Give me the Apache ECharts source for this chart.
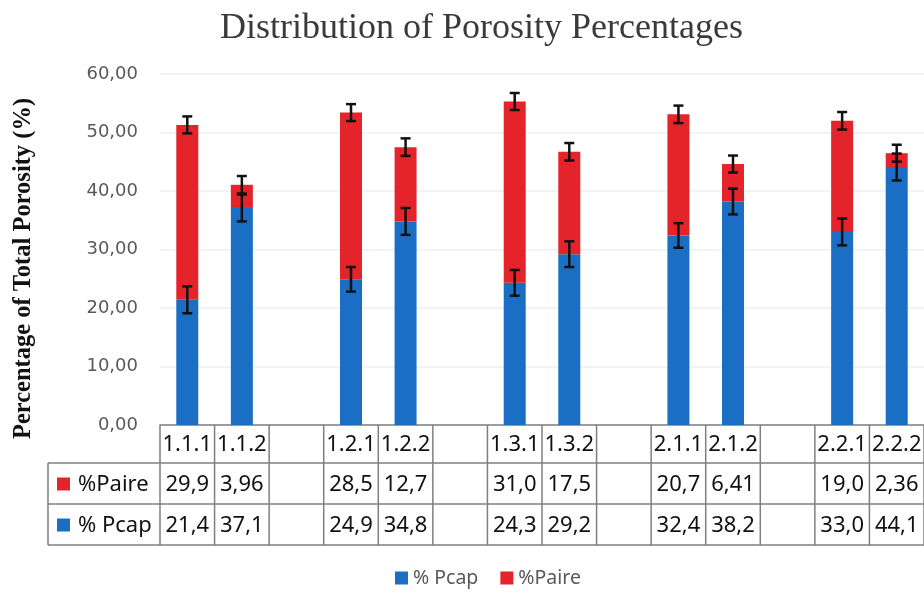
<!DOCTYPE html>
<html><head><meta charset="utf-8">
<script src="https://cdn.jsdelivr.net/npm/echarts@6/dist/echarts.min.js"></script>
<style>html,body{margin:0;padding:0;background:#fff}#c{width:924px;height:595px}</style>
</head><body><div id="c"></div>
<script>
const categories = ['1.1.1','1.1.2','','1.2.1','1.2.2','','1.3.1','1.3.2','','2.1.1','2.1.2','','2.2.1','2.2.2'];
const pcap  = [21.4, 37.1, null, 24.9, 34.8, null, 24.3, 29.2, null, 32.4, 38.2, null, 33.0, 44.1];
const paire = [29.9, 3.96, null, 28.5, 12.7, null, 31.0, 17.5, null, 20.7, 6.41, null, 19.0, 2.36];
const pcapLabels  = ['21,4','37,1','','24,9','34,8','','24,3','29,2','','32,4','38,2','','33,0','44,1'];
const paireLabels = ['29,9','3,96','','28,5','12,7','','31,0','17,5','','20,7','6,41','','19,0','2,36'];
const pcapErr  = [2.3, 2.3, null, 2.1, 2.3, null, 2.2, 2.2, null, 2.1, 2.2, null, 2.3, 2.3];
const totalErr = [1.45, 1.5, null, 1.45, 1.5, null, 1.45, 1.5, null, 1.5, 1.45, null, 1.5, 1.45];
const yTicks = {min: 0, max: 60, interval: 10};

const BLUE = '#1a6fc4', RED = '#e4232b';
const axisKeys = categories.map((c, i) => c || ' '.repeat(i + 1));

const pcapErrData = [], totErrData = [];
categories.forEach((c, i) => {
  if (pcap[i] == null) return;
  const tot = pcap[i] + paire[i];
  pcapErrData.push([i, pcap[i] - pcapErr[i], pcap[i] + pcapErr[i]]);
  totErrData.push([i, tot - totalErr[i], tot + totalErr[i]]);
});

function errRender(params, api) {
  const i = api.value(0);
  const lo = api.coord([i, api.value(1)]);
  const hi = api.coord([i, api.value(2)]);
  const w = 5;
  const st = {stroke: '#111', lineWidth: 2.5};
  return {type: 'group', children: [
    {type: 'line', shape: {x1: lo[0], y1: lo[1], x2: hi[0], y2: hi[1]}, style: st},
    {type: 'line', shape: {x1: lo[0] - w, y1: lo[1], x2: lo[0] + w, y2: lo[1]}, style: st},
    {type: 'line', shape: {x1: hi[0] - w, y1: hi[1], x2: hi[0] + w, y2: hi[1]}, style: st}
  ]};
}

const chart = echarts.init(document.getElementById('c'), null, {renderer: 'canvas'});
const option = {
  animation: false,
  backgroundColor: '#fff',
  title: {
    text: 'Distribution of Porosity Percentages',
    left: 215, top: 6,
    textStyle: {fontFamily: 'Liberation Serif', fontSize: 36, fontWeight: 'normal', color: '#3a3a3a'}
  },
  legend: {
    bottom: 2, left: 390, itemWidth: 13, itemHeight: 13, itemGap: 22,
    icon: 'rect',
    data: ['% Pcap', '%Paire'],
    textStyle: {fontFamily: 'Noto Sans', fontSize: 19.5, color: '#595959'}
  },
  grid: {left: 160, top: 74, width: 766, height: 351},
  xAxis: {
    type: 'category', data: axisKeys,
    axisLine: {show: true, lineStyle: {color: '#7f7f7f', width: 1.5}},
    axisTick: {show: false}, axisLabel: {show: false}
  },
  yAxis: {
    type: 'value', min: yTicks.min, max: yTicks.max, interval: yTicks.interval,
    name: 'Percentage of Total Porosity (%)', nameLocation: 'middle', nameGap: 124,
    nameTextStyle: {fontFamily: 'Liberation Serif', fontWeight: 'bold', fontSize: 24.5, color: '#111',
      padding: [0, 38, 0, 0]},
    axisLine: {show: false}, axisTick: {show: false},
    axisLabel: {margin: 22, fontFamily: 'DejaVu Sans', fontSize: 18, color: '#595959',
      formatter: v => v.toFixed(2).replace('.', ',')},
    splitLine: {show: true, lineStyle: {color: '#eaf1f9', width: 1.5}}
  },
  series: [
    {name: '% Pcap', type: 'bar', stack: 'p', data: pcap, barWidth: 22, itemStyle: {color: BLUE}},
    {name: '%Paire', type: 'bar', stack: 'p', data: paire, barWidth: 22, itemStyle: {color: RED}},
    {type: 'custom', data: pcapErrData, renderItem: errRender, z: 10, encode: {x: 0, y: [1, 2]}},
    {type: 'custom', data: totErrData, renderItem: errRender, z: 10, encode: {x: 0, y: [1, 2]}}
  ]
};
chart.setOption(option);

// Data table under the axis, positioned from the axis scale
(function buildTable() {
  const c0 = chart.convertToPixel({xAxisIndex: 0}, 0);
  const c1 = chart.convertToPixel({xAxisIndex: 0}, 1);
  const band = c1 - c0;
  const y0 = chart.convertToPixel({yAxisIndex: 0}, 0);
  const rowH = [38, 41, 41];
  const rTop = [y0, y0 + rowH[0], y0 + rowH[0] + rowH[1]];
  const rBot = y0 + rowH[0] + rowH[1] + rowH[2];
  const left = c0 - band / 2;
  const right = left + band * categories.length;
  const labelLeft = 48;
  const line = {stroke: '#7f7f7f', lineWidth: 1.5};
  const font = '22px "Noto Sans"';
  const els = [];
  const L = (x1, y1, x2, y2) => els.push({type: 'line', shape: {x1, y1, x2, y2}, style: line, z: 5});
  L(labelLeft, rTop[1], right, rTop[1]);
  L(labelLeft, rTop[2], right, rTop[2]);
  L(labelLeft, rBot, right, rBot);
  L(labelLeft, rTop[1], labelLeft, rBot);
  for (let k = 0; k <= categories.length; k++) {
    const x = left + band * k;
    L(x, y0, x, rBot);
  }
  const rows = [categories, paireLabels, pcapLabels];
  rows.forEach((arr, r) => {
    const yc = rTop[r] + rowH[r] / 2;
    arr.forEach((t, i) => {
      if (!t) return;
      els.push({type: 'text', z: 6, style: {text: t, x: left + band * (i + 0.5), y: yc + 1,
        align: 'center', verticalAlign: 'middle', font: font, fill: '#111'}});
    });
  });
  const rowNames = [null, '%Paire', '% Pcap'];
  const rowColors = [null, RED, BLUE];
  [1, 2].forEach(r => {
    const yc = rTop[r] + rowH[r] / 2;
    els.push({type: 'rect', z: 6, shape: {x: labelLeft + 9, y: yc - 6, width: 13, height: 13}, style: {fill: rowColors[r]}});
    els.push({type: 'text', z: 6, style: {text: rowNames[r], x: labelLeft + 30, y: yc + 1,
      align: 'left', verticalAlign: 'middle', font: font, fill: '#111'}});
  });
  chart.setOption({graphic: els});
})();
</script></body></html>
